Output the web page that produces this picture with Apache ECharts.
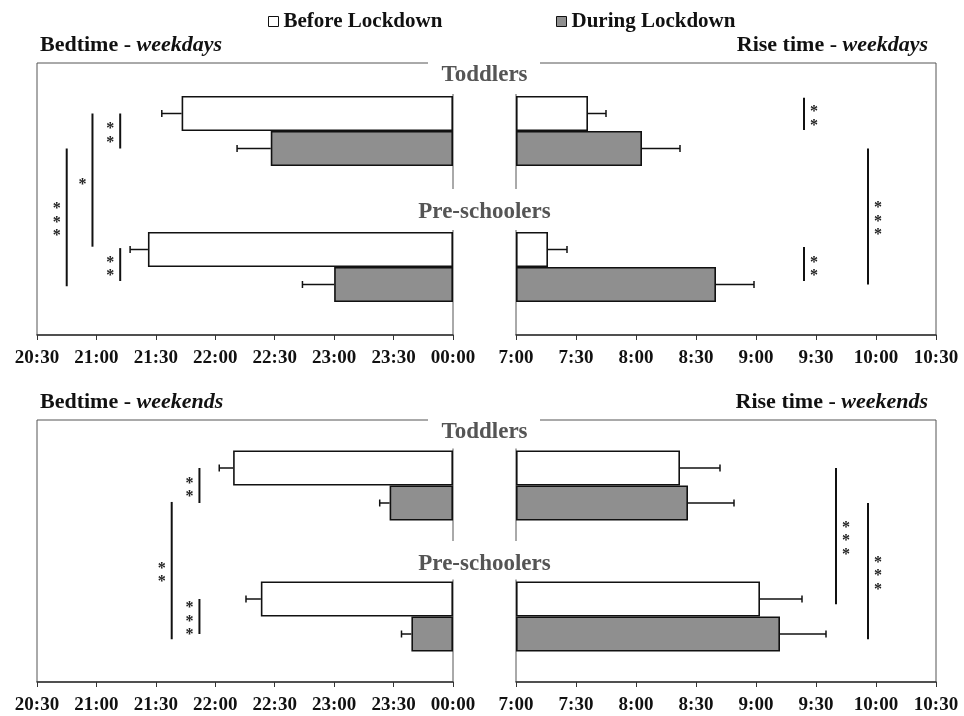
<!DOCTYPE html>
<html>
<head>
<meta charset="utf-8">
<title>Bedtime and rise time before / during lockdown</title>
<script src="https://cdn.jsdelivr.net/npm/echarts@6/dist/echarts.min.js"></script>
<style>
  html, body { margin: 0; padding: 0; background: #fff; }
  #chart { width: 964px; height: 716px; }
</style>
</head>
<body>
<div id="chart"></div>
<script>
// categories and series
const groups = ["Toddlers", "Pre-schoolers"];
const seriesNames = ["Before Lockdown", "During Lockdown"];

// clock times [toddlers, pre-schoolers], error bars in minutes
const bedWeekdayBefore = ["21:43", "21:26"];
const bedWeekdayDuring = ["22:28", "23:00"];
const bedWeekdayBeforeSd = [10, 9];
const bedWeekdayDuringSd = [17, 16];

const riseWeekdayBefore = ["7:36", "7:16"];
const riseWeekdayDuring = ["8:03", "8:40"];
const riseWeekdayBeforeSd = [9, 9.5];
const riseWeekdayDuringSd = [19, 19];

const bedWeekendBefore = ["22:09", "22:23"];
const bedWeekendDuring = ["23:28", "23:39"];
const bedWeekendBeforeSd = [7, 7.5];
const bedWeekendDuringSd = [5, 5];

const riseWeekendBefore = ["8:22", "9:02"];
const riseWeekendDuring = ["8:26", "9:12"];
const riseWeekendBeforeSd = [20, 21];
const riseWeekendDuringSd = [23, 23];

// tick labels, in axis value order (0, 0.5, ... 3.5 h)
const bedTickLabels = ["00:00", "23:30", "23:00", "22:30", "22:00", "21:30", "21:00", "20:30"];
const riseTickLabels = ["7:00", "7:30", "8:00", "8:30", "9:00", "9:30", "10:00", "10:30"];

// significance brackets: [time, from bar, to bar, stars]
// bars: 0 toddlers before, 1 toddlers during, 2 pre-schoolers before, 3 pre-schoolers during
const sigBedWeekday = [["21:12", 0, 1, "**"], ["20:58", 0, 1.92, "*"], ["20:45", 1, 3.05, "***"], ["21:12", 1.96, 2.9, "**"]];
const sigRiseWeekday = [["9:24", -0.45, 0.47, "**"], ["9:56", 1, 3, "***"], ["9:24", 1.93, 2.9, "**"]];
const sigBedWeekend = [["21:52", 0, 1, "**"], ["21:38", 0.97, 3.15, "**"], ["21:52", 2, 3, "***"]];
const sigRiseWeekend = [["9:40", 0, 2.15, "***"], ["9:56", 1, 3.15, "***"]];

const FONT = "'Liberation Serif', 'Times New Roman', serif";
const BAR_W = 35;

// bedtime -> hours before midnight, rise time -> hours after 7:00
const clock = t => { const [h, m] = t.split(":").map(Number); return h + m / 60; };
const toBed = t => 24 - clock(t);
const toRise = t => clock(t) - 7;

const panels = [
  { kind: "bed", left: 37, top: 63, width: 416, height: 272, title: ["Bedtime - ", "weekdays"],
    before: bedWeekdayBefore, during: bedWeekdayDuring, beforeSd: bedWeekdayBeforeSd, duringSd: bedWeekdayDuringSd, sig: sigBedWeekday },
  { kind: "rise", left: 516, top: 63, width: 420, height: 272, title: ["Rise time - ", "weekdays"],
    before: riseWeekdayBefore, during: riseWeekdayDuring, beforeSd: riseWeekdayBeforeSd, duringSd: riseWeekdayDuringSd, sig: sigRiseWeekday },
  { kind: "bed", left: 37, top: 420, width: 416, height: 262, title: ["Bedtime - ", "weekends"],
    before: bedWeekendBefore, during: bedWeekendDuring, beforeSd: bedWeekendBeforeSd, duringSd: bedWeekendDuringSd, sig: sigBedWeekend },
  { kind: "rise", left: 516, top: 420, width: 420, height: 262, title: ["Rise time - ", "weekends"],
    before: riseWeekendBefore, during: riseWeekendDuring, beforeSd: riseWeekendBeforeSd, duringSd: riseWeekendDuringSd, sig: sigRiseWeekend }
];

const chart = echarts.init(document.getElementById("chart"), null, { renderer: "canvas" });

// y pixel of a bar slot (may be fractional)
const slotY = (api, s) => {
  const c0 = api.coord([0, 0])[1], c1 = api.coord([0, 1])[1];
  return s < 1.5 ? c0 + (s - 0.5) * BAR_W : c1 + (s - 2.5) * BAR_W;
};

const errorBars = (params, api) => {
  const v = api.value(0), cat = api.value(1), e = api.value(2), which = api.value(3);
  const p0 = api.coord([v, cat]);
  const p1 = api.coord([v + e, cat]);
  const y = p0[1] + (which === 0 ? -BAR_W / 2 : BAR_W / 2);
  const st = { stroke: "#111", lineWidth: 1.5 };
  return {
    type: "group",
    children: [
      { type: "line", shape: { x1: p0[0], y1: y, x2: p1[0], y2: y }, style: st },
      { type: "line", shape: { x1: p1[0], y1: y - 3.5, x2: p1[0], y2: y + 3.5 }, style: st }
    ]
  };
};

const brackets = (p, list, conv) => (params, api) => {
  const b = list[params.dataIndex];
  const x = api.coord([conv(b[0]), 0])[0];
  const y1 = slotY(api, b[1]), y2 = slotY(api, b[2]);
  const dir = p.kind === "bed" ? -1 : 1;
  return {
    type: "group",
    children: [
      { type: "line", shape: { x1: x, y1: y1, x2: x, y2: y2 }, style: { stroke: "#111", lineWidth: 2 } },
      { type: "text", x: x + dir * 10, y: (y1 + y2) / 2 + 5,
        style: { text: b[3].split("").join("\n"), font: "bold 16px " + FONT, lineHeight: 13.3,
                 fill: "#222", align: "center", verticalAlign: "middle" } }
    ]
  };
};

const series = [];
panels.forEach((p, i) => {
  const conv = p.kind === "bed" ? toBed : toRise;
  series.push({
    name: seriesNames[0], type: "bar", xAxisIndex: i, yAxisIndex: i, barWidth: BAR_W, barGap: "0%",
    data: p.before.map(conv), itemStyle: { color: "#fff", borderColor: "#111", borderWidth: 1.6 }, emphasis: { disabled: true }
  });
  series.push({
    name: seriesNames[1], type: "bar", xAxisIndex: i, yAxisIndex: i, barWidth: BAR_W, barGap: "0%",
    data: p.during.map(conv), itemStyle: { color: "#8f8f8f", borderColor: "#111", borderWidth: 1.6 }, emphasis: { disabled: true }
  });
  const err = [];
  p.before.forEach((t, k) => err.push([conv(t), k, p.beforeSd[k] / 60, 0]));
  p.during.forEach((t, k) => err.push([conv(t), k, p.duringSd[k] / 60, 1]));
  series.push({ type: "custom", xAxisIndex: i, yAxisIndex: i, data: err, encode: { x: 0, y: 1 }, renderItem: errorBars, z: 3, silent: true });
  series.push({
    type: "custom", xAxisIndex: i, yAxisIndex: i, data: p.sig.map(b => [conv(b[0]), 0]), encode: { x: 0, y: 1 },
    renderItem: brackets(p, p.sig, conv), z: 3, silent: true
  });
});

// titles, group labels (white boxes break the frame like in the figure)
const graphic = [];
panels.forEach(p => {
  const right = p.kind === "rise";
  graphic.push({
    type: "text", x: right ? 928 : 40, y: p.top - 18, z: 100,
    style: {
      text: "{b|" + p.title[0] + "}{i|" + p.title[1] + "}",
      rich: { b: { font: "bold 22px " + FONT, fill: "#111" }, i: { font: "italic bold 22px " + FONT, fill: "#111" } },
      align: right ? "right" : "left", verticalAlign: "middle"
    }
  });
});
[[63, 272], [420, 262]].forEach(([top, h]) => {
  const band = h / 2;
  const pad = (band - 2 * BAR_W) / 2;
  const cx = 484.5;
  // gap in the frame around the group labels
  graphic.push({ type: "rect", z: 99, shape: { x: 428, y: top - 8, width: 112, height: pad + 6 }, style: { fill: "#fff" } });
  graphic.push({ type: "rect", z: 99, shape: { x: 405, y: top + band - 10, width: 155, height: pad + 8 }, style: { fill: "#fff" } });
  graphic.push({ type: "text", z: 100, x: cx, y: top + 12, style: { text: groups[0], font: "bold 23px " + FONT, fill: "#555", align: "center", verticalAlign: "middle" } });
  graphic.push({ type: "text", z: 100, x: cx, y: top + band + 13, style: { text: groups[1], font: "bold 23px " + FONT, fill: "#555", align: "center", verticalAlign: "middle" } });
});

chart.setOption({
  animation: false,
  backgroundColor: "#fff",
  legend: seriesNames.map((n, i) => ({
    data: [n], left: [268, 556][i], top: 11, padding: 0, icon: "rect", itemWidth: 10, itemHeight: 10,
    selectedMode: false, itemStyle: { borderColor: "#111", borderWidth: 1 },
    textStyle: { fontFamily: FONT, fontWeight: "bold", fontSize: 21, color: "#111" }
  })),
  grid: panels.map(p => ({
    left: p.left, top: p.top, width: p.width, height: p.height, show: true,
    borderColor: "#555", borderWidth: 1, containLabel: false, outerBoundsMode: "none"
  })),
  xAxis: panels.map((p, i) => ({
    type: "value", gridIndex: i, min: 0, max: 3.5, interval: 0.5, inverse: p.kind === "bed",
    axisLine: { show: true, lineStyle: { color: "#333", width: 1.5 } },
    axisTick: { show: true, length: 5, lineStyle: { color: "#333" } },
    splitLine: { show: false },
    axisLabel: {
      margin: 14, color: "#111", fontFamily: FONT, fontWeight: "bold", fontSize: 19, showMinLabel: true, showMaxLabel: true,
      formatter: v => (p.kind === "bed" ? bedTickLabels : riseTickLabels)[Math.round(v / 0.5)]
    }
  })),
  yAxis: panels.map((p, i) => ({
    type: "category", gridIndex: i, data: groups, inverse: true,
    axisLine: { show: false }, axisTick: { show: false }, axisLabel: { show: false }, splitLine: { show: false }
  })),
  series: series,
  graphic: graphic
});
</script>
</body>
</html>
